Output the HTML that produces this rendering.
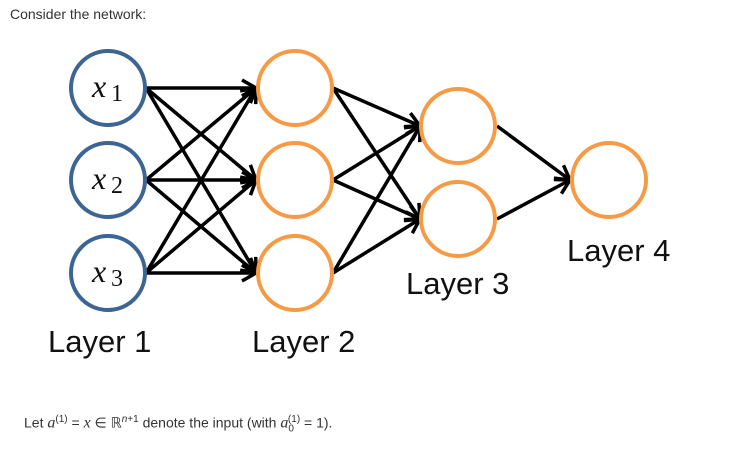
<!DOCTYPE html>
<html><head><style>
body{margin:0;width:734px;height:468px;background:#fff;overflow:hidden;font-family:"Liberation Sans",sans-serif;position:relative}
.t{position:absolute;color:#333;font-size:14px}
</style></head><body>
<div class="t" style="left:10px;top:6px">Consider the network:</div>
<svg width="734" height="400" style="position:absolute;left:0;top:0">
<defs><marker id="a" viewBox="0 0 20 20" refX="18" refY="10" markerWidth="20" markerHeight="20" orient="auto" markerUnits="userSpaceOnUse"><path d="M4,2 L18,10 L4,18" fill="none" stroke="#000" stroke-width="3.5"/></marker></defs>
<g stroke="#000" stroke-width="3.5" fill="none" marker-end="url(#a)">
<line x1="146" y1="88" x2="256" y2="88"/><line x1="146" y1="88" x2="256" y2="180"/><line x1="146" y1="88" x2="256" y2="273"/>
<line x1="146" y1="180" x2="256" y2="88"/><line x1="146" y1="180" x2="256" y2="180"/><line x1="146" y1="180" x2="256" y2="273"/>
<line x1="146" y1="273" x2="256" y2="88"/><line x1="146" y1="273" x2="256" y2="180"/><line x1="146" y1="273" x2="256" y2="273"/>
<line x1="333" y1="88" x2="420" y2="126"/><line x1="333" y1="88" x2="420" y2="219"/>
<line x1="333" y1="180" x2="420" y2="126"/><line x1="333" y1="180" x2="420" y2="219"/>
<line x1="333" y1="273" x2="420" y2="126"/><line x1="333" y1="273" x2="420" y2="219"/>
<line x1="497" y1="126" x2="570" y2="180"/><line x1="497" y1="219" x2="570" y2="180"/>
</g>
<g fill="none" stroke-width="4">
<circle cx="108" cy="88" r="37" stroke="#3d6594"/>
<circle cx="108" cy="180" r="37" stroke="#3d6594"/>
<circle cx="108" cy="273" r="37" stroke="#3d6594"/>
<circle cx="295" cy="88" r="37" stroke="#f79a45"/>
<circle cx="295" cy="180" r="37" stroke="#f79a45"/>
<circle cx="295" cy="273" r="37" stroke="#f79a45"/>
<circle cx="458" cy="126" r="37" stroke="#f79a45"/>
<circle cx="458" cy="219" r="37" stroke="#f79a45"/>
<circle cx="609" cy="180" r="37" stroke="#f79a45"/>
</g>
<g font-family="Liberation Serif,serif" font-style="italic" font-size="32" fill="#111">
<text x="92" y="97">x</text><text x="92" y="189">x</text><text x="92" y="282">x</text></g>
<g font-family="Liberation Serif,serif" font-size="24" fill="#111">
<text x="111" y="101">1</text><text x="111" y="193">2</text><text x="111" y="286">3</text></g>
<g font-size="31" fill="#111">
<text x="48" y="352">Layer 1</text><text x="252" y="352">Layer 2</text>
<text x="406" y="294">Layer 3</text><text x="567" y="261">Layer 4</text></g>
</svg>
<div class="t" style="left:24px;top:414px;font-size:14px">Let <i style="font-family:'Liberation Serif',serif;font-size:16px">a</i><sup style="font-size:10px">(1)</sup> = <i style="font-family:'Liberation Serif',serif;font-size:16px">x</i> ∈ ℝ<sup style="font-size:10px"><i>n</i>+1</sup> denote the input (with <i style="font-family:'Liberation Serif',serif;font-size:16px">a</i><sub style="font-size:10px">0</sub><sup style="font-size:10px;margin-left:-6px">(1)</sup> = 1).</div>
</body></html>
